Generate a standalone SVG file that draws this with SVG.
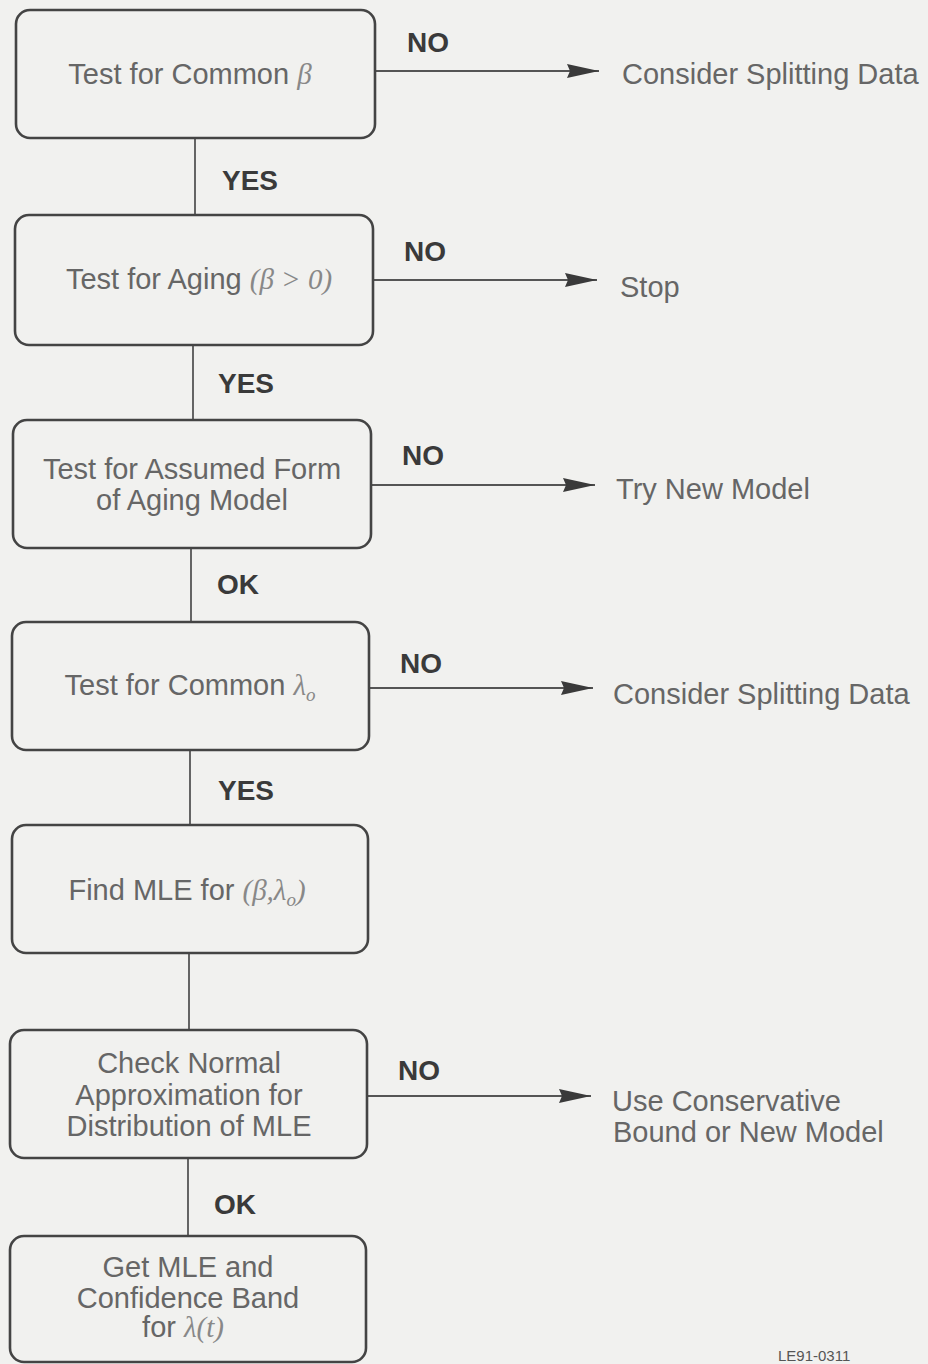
<svg xmlns="http://www.w3.org/2000/svg" width="928" height="1364" viewBox="0 0 928 1364">
<defs>
<marker id="ah" markerWidth="32" markerHeight="14" refX="32" refY="7" orient="auto" markerUnits="userSpaceOnUse">
<path d="M0,0 L32,7 L0,14 L3,7 Z" fill="#3a3a3a"/>
</marker>
</defs>
<style>
.box{fill:none;stroke:#444;stroke-width:2.6}
.t{font-family:"Liberation Sans",Arial,sans-serif;font-size:29px;fill:#666;text-anchor:middle}
.r{font-family:"Liberation Sans",Arial,sans-serif;font-size:29px;fill:#666}
.m{font-family:"Liberation Serif","Times New Roman",serif;font-style:italic;fill:#888}
.lab{font-family:"Liberation Sans",Arial,sans-serif;font-size:28px;font-weight:bold;fill:#3a3a3a;text-anchor:middle}
.ln{stroke:#555;stroke-width:1.8;fill:none}
.small{font-family:"Liberation Sans",Arial,sans-serif;font-size:15px;fill:#555}
</style>
<rect width="928" height="1364" fill="#f1f1ef"/>
<g id="connectors">
<line class="ln" x1="195" y1="138" x2="195" y2="215"/>
<line class="ln" x1="193" y1="345" x2="193" y2="420"/>
<line class="ln" x1="191" y1="548" x2="191" y2="622"/>
<line class="ln" x1="190" y1="750" x2="190" y2="825"/>
<line class="ln" x1="189" y1="953" x2="189" y2="1030"/>
<line class="ln" x1="188" y1="1158" x2="188" y2="1236"/>
<line class="ln" x1="375" y1="71" x2="599" y2="71" marker-end="url(#ah)"/>
<line class="ln" x1="373" y1="280" x2="597" y2="280" marker-end="url(#ah)"/>
<line class="ln" x1="371" y1="485" x2="595" y2="485" marker-end="url(#ah)"/>
<line class="ln" x1="369" y1="688" x2="593" y2="688" marker-end="url(#ah)"/>
<line class="ln" x1="367" y1="1096" x2="591" y2="1096" marker-end="url(#ah)"/>
<text class="lab" x="428" y="52">NO</text>
<text class="lab" x="250" y="190">YES</text>
<text class="lab" x="425" y="261">NO</text>
<text class="lab" x="246" y="393">YES</text>
<text class="lab" x="423" y="465">NO</text>
<text class="lab" x="238" y="594">OK</text>
<text class="lab" x="421" y="673">NO</text>
<text class="lab" x="246" y="800">YES</text>
<text class="lab" x="419" y="1080">NO</text>
<text class="lab" x="235" y="1214">OK</text>
</g>
<g id="n1">
<rect class="box" x="16" y="10" width="359" height="128" rx="14"/>
<text class="t" x="190" y="84">Test for Common <tspan class="m">β</tspan></text>
</g>
<g id="n2">
<rect class="box" x="15" y="215" width="358" height="130" rx="14"/>
<text class="t" x="199" y="289">Test for Aging <tspan class="m">(β &gt; 0)</tspan></text>
</g>
<g id="n3">
<rect class="box" x="13" y="420" width="358" height="128" rx="14"/>
<text class="t" x="192" y="479">Test for Assumed Form</text>
<text class="t" x="192" y="510">of Aging Model</text>
</g>
<g id="n4">
<rect class="box" x="12" y="622" width="357" height="128" rx="14"/>
<text class="t" x="190" y="695">Test for Common <tspan class="m">λ<tspan font-size="19px" dy="6">o</tspan></tspan></text>
</g>
<g id="n5">
<rect class="box" x="12" y="825" width="356" height="128" rx="14"/>
<text class="t" x="187" y="900">Find MLE for <tspan class="m">(β,λ<tspan font-size="19px" dy="6">o</tspan><tspan dy="-6">)</tspan></tspan></text>
</g>
<g id="n6">
<rect class="box" x="10" y="1030" width="357" height="128" rx="14"/>
<text class="t" x="189" y="1073">Check Normal</text>
<text class="t" x="189" y="1105">Approximation for</text>
<text class="t" x="189" y="1136">Distribution of MLE</text>
</g>
<g id="n7">
<rect class="box" x="10" y="1236" width="356" height="126" rx="14"/>
<text class="t" x="188" y="1277">Get MLE and</text>
<text class="t" x="188" y="1308">Confidence Band</text>
<text class="t" x="183" y="1337">for <tspan class="m">λ(t)</tspan></text>
</g>
<g id="o1"><text class="r" x="622" y="84">Consider Splitting Data</text></g>
<g id="o2"><text class="r" x="620" y="297">Stop</text></g>
<g id="o3"><text class="r" x="616" y="499">Try New Model</text></g>
<g id="o4"><text class="r" x="613" y="704">Consider Splitting Data</text></g>
<g id="o5">
<text class="r" x="612" y="1111">Use Conservative</text>
<text class="r" x="613" y="1142">Bound or New Model</text>
</g>
<text class="small" x="778" y="1361">LE91-0311</text>
</svg>
